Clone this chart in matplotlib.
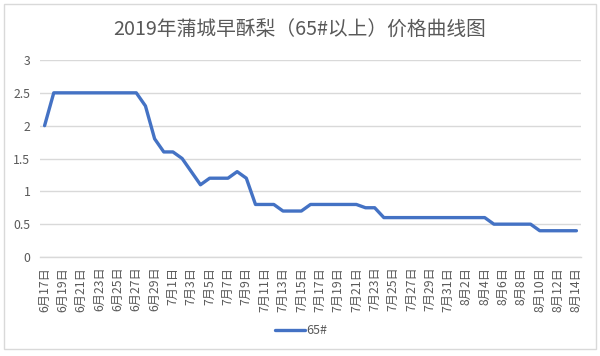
import matplotlib
matplotlib.use("Agg")
import matplotlib.pyplot as plt
from matplotlib.patches import Rectangle
import datetime as dt

plt.rcParams['font.family'] = ['Noto Sans CJK SC', 'DejaVu Sans']

title = "2019年蒲城早酥梨（65#以上）价格曲线图"
series_name = "65#"
start_date = dt.date(2019, 6, 17)
n_days = 59
dates = [start_date + dt.timedelta(days=i) for i in range(n_days)]
categories = [f"{d.month}月{d.day}日" for d in dates]
prices = [2.0,
          2.5, 2.5, 2.5, 2.5, 2.5, 2.5, 2.5, 2.5, 2.5, 2.5,
          2.3, 1.8, 1.6, 1.6, 1.5, 1.3, 1.1,
          1.2, 1.2, 1.2, 1.3, 1.2,
          0.8, 0.8, 0.8,
          0.7, 0.7, 0.7,
          0.8, 0.8, 0.8, 0.8, 0.8, 0.8,
          0.75, 0.75,
          0.6, 0.6, 0.6, 0.6, 0.6, 0.6, 0.6, 0.6, 0.6, 0.6, 0.6, 0.6,
          0.5, 0.5, 0.5, 0.5, 0.5,
          0.4, 0.4, 0.4, 0.4, 0.4]
yticks = [0, 0.5, 1, 1.5, 2, 2.5, 3]
ytick_labels = ["0", "0.5", "1", "1.5", "2", "2.5", "3"]

text_color = "#595959"
grid_color = "#D9D9D9"
line_color = "#4472C4"

W, H = 600, 356
fig = plt.figure(figsize=(W / 100, H / 100), dpi=100)
ax = fig.add_axes([40 / W, 1 - 257 / H, (581 - 40) / W, (257 - 60) / H])

x = list(range(len(prices)))
line, = ax.plot(x, prices, color=line_color, linewidth=2.4, solid_joinstyle='round',
                solid_capstyle='round', label=series_name)

ax.set_xlim(-0.5, len(prices) - 0.5)
ax.set_ylim(0, 3)
ax.set_yticks(yticks)
ax.set_yticklabels(ytick_labels)
ax.set_xticks(x[::2])
ax.set_xticklabels(categories[::2], rotation=90)
ax.tick_params(axis='y', length=0, pad=7, labelsize=8.8, labelcolor=text_color)
ax.tick_params(axis='x', length=0, pad=7, labelsize=8.8, labelcolor=text_color)
ax.grid(axis='y', color=grid_color, linewidth=1.0)
ax.set_axisbelow(True)
for s in ['top', 'right', 'left']:
    ax.spines[s].set_visible(False)
ax.spines['bottom'].set_color(grid_color)
ax.spines['bottom'].set_linewidth(1.0)

fig.text(0.5, 1 - 30 / H, title, ha='center', va='center', fontsize=14.2, color=text_color)

leg = fig.legend(handles=[line], loc='center', bbox_to_anchor=(301 / W, 1 - 331 / H),
                 frameon=False, fontsize=9, handlelength=2.4, handletextpad=0.1,
                 labelcolor=text_color)

fig.patches.append(Rectangle((4 / W, 1 - 349 / H), (596 - 4) / W, (349 - 4) / H,
                             transform=fig.transFigure, fill=False,
                             edgecolor=grid_color, linewidth=1.0))

fig.savefig("out.png", dpi=100, facecolor="white")
